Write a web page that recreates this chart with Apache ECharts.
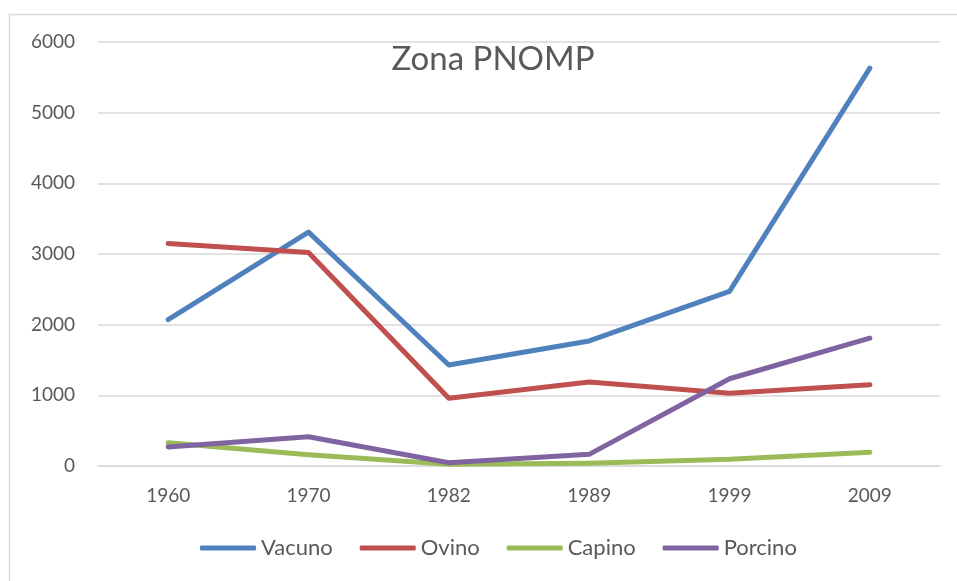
<!DOCTYPE html>
<html>
<head>
<meta charset="utf-8">
<script src="https://cdn.jsdelivr.net/npm/echarts@6/dist/echarts.min.js"></script>
<style>
  html, body { margin: 0; padding: 0; background: #fff; }
  #chart { width: 957px; height: 581px; }
</style>
</head>
<body>
<div id="chart"></div>
<script>
  // datos
  const years = ['1960', '1970', '1982', '1989', '1999', '2009'];
  const vacuno = [2070, 3310, 1430, 1770, 2470, 5630];
  const ovino = [3150, 3020, 960, 1190, 1030, 1150];
  const capino = [330, 160, 25, 40, 95, 195];
  const porcino = [270, 415, 47, 165, 1235, 1810];
  const yTicks = [0, 1000, 2000, 3000, 4000, 5000, 6000];

  const font = 'Lato, "Open Sans", sans-serif';
  const chart = echarts.init(document.getElementById('chart'));

  const mkSeries = (name, data, color) => ({
    name: name,
    type: 'line',
    data: data,
    symbol: 'none',
    lineStyle: { width: 5, color: color, cap: 'round', join: 'round' },
    itemStyle: { color: color },
  });

  chart.setOption({
    animation: false,
    title: {
      text: 'Zona PNOMP',
      left: 488,
      textAlign: 'center',
      top: 38,
      textStyle: { fontFamily: font, fontSize: 33, fontWeight: 'normal', color: '#595959' },
    },
    graphic: [
      {
        type: 'polyline',
        shape: { points: [[9.5, 581], [9.5, 14.5], [957, 14.5]] },
        style: { stroke: '#d9d9d9', lineWidth: 1.5, fill: null },
        silent: true,
      },
    ],
    legend: {
      bottom: 17,
      left: 195,
      itemWidth: 56,
      itemHeight: 5,
      itemGap: 27,
      icon: 'roundRect',
      textStyle: { fontFamily: font, fontSize: 22, color: '#595959', padding: [0, 0, 0, 0] },
      data: ['Vacuno', 'Ovino', 'Capino', 'Porcino'],
    },
    grid: { left: 98, right: 17, top: 42, bottom: 115 },
    xAxis: {
      type: 'category',
      data: years,
      boundaryGap: true,
      axisLine: { lineStyle: { color: '#d9d9d9', width: 1.5 } },
      axisTick: { show: false },
      axisLabel: { fontFamily: font, fontSize: 19, color: '#595959', margin: 20 },
    },
    yAxis: {
      type: 'value',
      min: yTicks[0],
      max: yTicks[yTicks.length - 1],
      interval: 1000,
      axisLine: { show: false },
      axisTick: { show: false },
      splitLine: { lineStyle: { color: '#d9d9d9', width: 1.5 } },
      axisLabel: { fontFamily: font, fontSize: 19, color: '#595959', margin: 23, formatter: (v) => String(v) },
    },
    series: [
      mkSeries('Vacuno', vacuno, '#4f81bd'),
      mkSeries('Ovino', ovino, '#c0504d'),
      mkSeries('Capino', capino, '#9bbb59'),
      mkSeries('Porcino', porcino, '#8064a2'),
    ],
  });
</script>
</body>
</html>
